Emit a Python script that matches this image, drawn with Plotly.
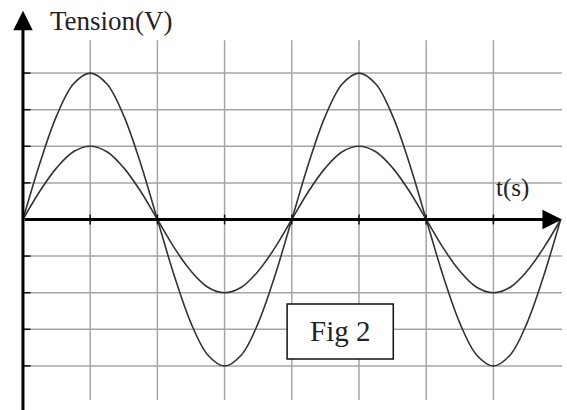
import plotly.graph_objects as go

# ---- data ----
t_values = [0, 0.25, 0.5, 0.75, 1, 1.25, 1.5, 1.75, 2, 2.25, 2.5, 2.75, 3, 3.25, 3.5, 3.75, 4,
            4.25, 4.5, 4.75, 5, 5.25, 5.5, 5.75, 6, 6.25, 6.5, 6.75, 7, 7.25, 7.5, 7.75, 8]
big_wave = [0, 1.53, 2.83, 3.7, 4, 3.7, 2.83, 1.53, 0, -1.53, -2.83, -3.7, -4, -3.7, -2.83, -1.53, 0,
            1.53, 2.83, 3.7, 4, 3.7, 2.83, 1.53, 0, -1.53, -2.83, -3.7, -4, -3.7, -2.83, -1.53, 0]
small_wave = [0, 0.77, 1.41, 1.85, 2, 1.85, 1.41, 0.77, 0, -0.77, -1.41, -1.85, -2, -1.85, -1.41, -0.77, 0,
              0.77, 1.41, 1.85, 2, 1.85, 1.41, 0.77, 0, -0.77, -1.41, -1.85, -2, -1.85, -1.41, -0.77, 0]
x_grid = [1, 2, 3, 4, 5, 6, 7]
y_grid = [-4, -3, -2, -1, 1, 2, 3, 4]
y_label = "Tension(V)"
x_label = "t(s)"
fig_label = "Fig 2"

X_RANGE = [-0.342, 8.095]
Y_RANGE = [-5.205, 5.997]
GRID_COLOR = "#a6a6a6"
CURVE_COLOR = "#333333"
SERIF = "Liberation Serif, Times New Roman, serif"

fig = go.Figure()

shapes = []
for gx in x_grid:
    shapes.append(dict(type="line", xref="x", yref="y", x0=gx, x1=gx, y0=-4.93, y1=4.9,
                       line=dict(color=GRID_COLOR, width=1.5), layer="below"))
for gy in y_grid:
    shapes.append(dict(type="line", xref="x", yref="y", x0=0, x1=8.02, y0=gy, y1=gy,
                       line=dict(color=GRID_COLOR, width=1.5), layer="below"))
# Fig 2 box
shapes.append(dict(type="rect", xref="x", yref="y", x0=3.93, x1=5.51, y0=-2.31, y1=-3.81,
                   line=dict(color="#111111", width=1.5), fillcolor="white", layer="above"))

fig.add_trace(go.Scatter(x=t_values, y=big_wave, mode="lines", line=dict(color=CURVE_COLOR, width=1.6, shape="spline"),
                         hoverinfo="skip", showlegend=False))
fig.add_trace(go.Scatter(x=t_values, y=small_wave, mode="lines", line=dict(color=CURVE_COLOR, width=1.6, shape="spline"),
                         hoverinfo="skip", showlegend=False))

# ticks on axes
fig.add_trace(go.Scatter(x=x_grid, y=[0] * len(x_grid), mode="markers",
                         marker=dict(symbol="line-ns-open", size=7, color="#111111",
                                     line=dict(color="#111111", width=1.5)),
                         hoverinfo="skip", showlegend=False))
fig.add_trace(go.Scatter(x=[0.05] * len(y_grid), y=y_grid, mode="markers",
                         marker=dict(symbol="line-ew-open", size=6, color="#111111",
                                     line=dict(color="#111111", width=1.5)),
                         hoverinfo="skip", showlegend=False))

annotations = [
    # y axis arrow
    dict(x=0, y=5.7, ax=0, ay=-5.3, xref="x", yref="y", axref="x", ayref="y", text="",
         showarrow=True, arrowhead=2, arrowsize=1.3, arrowwidth=3, arrowcolor="#000000"),
    # x axis arrow
    dict(x=8.02, y=0, ax=0, ay=0, xref="x", yref="y", axref="x", ayref="y", text="",
         showarrow=True, arrowhead=2, arrowsize=1.3, arrowwidth=3, arrowcolor="#000000"),
    dict(x=1.32, y=5.42, xref="x", yref="y", text=y_label, showarrow=False,
         font=dict(family=SERIF, size=27, color="#222222"), xanchor="center", yanchor="middle"),
    dict(x=7.28, y=0.86, xref="x", yref="y", text=x_label, showarrow=False,
         font=dict(family=SERIF, size=25, color="#222222"), xanchor="center", yanchor="middle"),
    dict(x=4.72, y=-3.05, xref="x", yref="y", text=fig_label, showarrow=False,
         font=dict(family=SERIF, size=29, color="#222222"), xanchor="center", yanchor="middle"),
]

fig.update_layout(
    width=567, height=410,
    margin=dict(l=0, r=0, t=0, b=0),
    paper_bgcolor="white", plot_bgcolor="white",
    shapes=shapes, annotations=annotations,
    xaxis=dict(range=X_RANGE, visible=False, fixedrange=True),
    yaxis=dict(range=Y_RANGE, visible=False, fixedrange=True),
)

fig.write_html("out.html", config={"displayModeBar": False},
               post_script="document.body.style.margin='0';")
